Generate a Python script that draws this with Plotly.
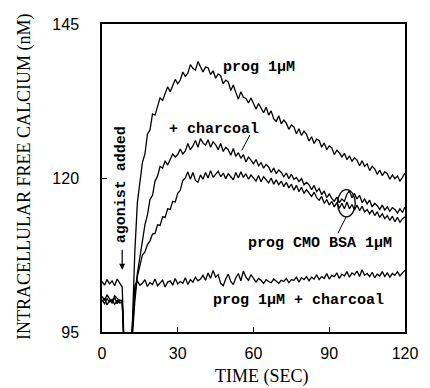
import plotly.graph_objects as go

time_s = list(range(0, 121))

prog_1uM = [
    100.8, 100.2, 101.0, 100.4, 99.8, 100.9, 100.5, 100.0, 100.2, 90, 90, 90,
    96.0, 108.0, 116.0, 119.2, 122.5, 123.9, 127.1, 127.8, 130.4, 130.2, 131.6, 133.0,
    132.6, 133.9, 134.8, 134.0, 135.1, 136.0, 135.3, 135.9, 137.2, 136.5, 137.0, 138.4,
    137.8, 137.5, 138.9, 138.1, 137.2, 138.0, 137.9, 136.8, 137.4, 136.2, 136.9, 136.6,
    135.3, 135.9, 135.6, 134.2, 135.1, 133.9, 132.8, 134.0, 133.1, 132.9, 132.2, 133.0,
    132.0, 131.2, 132.1, 131.4, 130.6, 131.5, 130.2, 130.9, 129.6, 129.2, 130.1, 128.8,
    129.4, 128.9, 127.9, 128.6, 128.3, 127.2, 128.0, 126.9, 127.6, 127.1, 126.0, 126.7,
    125.6, 126.3, 126.1, 125.0, 125.7, 124.6, 125.2, 124.9, 123.8, 124.5, 124.1, 123.4,
    124.0, 123.0, 123.6, 122.7, 123.3, 122.9, 122.0, 122.8, 121.9, 122.3, 121.2, 121.9,
    121.5, 120.6, 121.3, 120.4, 121.0, 120.7, 119.8, 120.5, 119.9, 120.3, 119.5, 120.1,
    120.8,
]

charcoal = [
    100.2, 99.6, 100.4, 99.9, 100.3, 99.5, 100.1, 99.7, 99.8, 90, 90, 90,
    95.0, 101.0, 104.5, 107.3, 109.5, 112.4, 114.0, 116.5, 117.2, 119.5, 120.3, 121.9,
    121.6, 122.8, 122.1, 123.0, 123.9, 123.4, 123.8, 124.7, 123.9, 124.4, 125.6, 124.6,
    125.2, 126.1, 125.0, 126.4, 125.7, 125.3, 126.2, 125.0, 125.9, 125.4, 124.6, 125.6,
    124.3, 125.0, 124.6, 123.7, 124.8, 123.5, 124.1, 123.2, 123.8, 122.6, 123.4, 122.9,
    122.3, 123.0, 122.0, 122.5, 121.6, 122.2, 121.8, 120.9, 121.6, 120.7, 121.3, 120.9,
    120.2, 120.8, 119.9, 120.6, 119.8, 120.1, 119.4, 119.9, 118.9, 119.3, 118.9, 118.1,
    118.8, 117.8, 118.3, 117.3, 117.9, 116.8, 117.4, 116.7, 116.2, 116.9, 116.0, 116.6,
    116.2, 117.4, 117.9, 116.8, 117.5, 116.6, 117.2, 116.0, 116.6, 115.8, 116.4, 115.3,
    115.9, 115.5, 114.9, 115.6, 114.8, 115.3, 114.6, 115.2, 114.9, 114.3, 115.0, 114.4,
    115.3,
]

cmo_bsa = [
    99.9, 100.5, 99.4, 100.1, 99.7, 100.6, 99.6, 100.2, 100.0, 90, 90, 90,
    94.0, 100.0, 104.0, 105.7, 107.5, 108.0, 109.2, 109.8, 110.9, 111.0, 112.4, 112.3,
    113.7, 113.6, 115.0, 114.9, 116.2, 116.1, 117.5, 118.0, 119.6, 120.0, 121.0, 119.8,
    120.9, 119.6, 119.3, 120.5, 119.8, 120.9, 120.0, 121.2, 120.1, 120.6, 121.1, 120.2,
    120.8, 119.9, 120.7, 120.2, 119.7, 120.9, 120.0, 121.0, 120.1, 120.7, 119.8, 120.5,
    120.0, 119.5, 120.4, 119.4, 120.2, 119.7, 119.2, 120.0, 119.0, 119.7, 118.9, 119.5,
    118.6, 119.3, 118.4, 119.0, 118.0, 118.8, 117.8, 118.5, 117.5, 118.1, 117.6, 117.0,
    117.7, 116.8, 116.4, 117.0, 115.9, 116.5, 115.6, 116.2, 115.3, 116.0, 115.1, 115.9,
    115.0, 116.1, 115.0, 115.7, 114.8, 115.6, 114.7, 115.4, 114.5, 114.9, 114.2, 114.8,
    113.9, 114.5, 113.6, 114.2, 113.4, 113.9, 113.1, 113.8, 112.9, 113.6, 112.8, 113.4,
    113.7,
]

prog_charcoal = [
    103.2, 102.6, 103.5, 102.8, 103.3, 102.5, 103.6, 102.9, 102.3, 90, 90, 90,
    96.0, 102.5, 103.3, 102.6, 102.9, 103.5, 102.4, 103.0, 102.7, 103.6, 102.5, 102.9,
    103.4, 102.3, 103.1, 103.3, 102.6, 103.7, 102.8, 103.2, 102.9, 103.8, 102.7, 103.5,
    103.1, 103.9, 103.3, 103.6, 104.2, 103.4, 104.6, 103.7, 105.0, 103.9, 104.3, 102.9,
    102.5, 103.6, 104.4, 103.2, 102.7, 103.8, 104.5, 103.3, 104.9, 103.9, 103.4, 104.3,
    103.6, 103.1, 103.7, 103.4, 102.9, 103.5, 103.2, 103.0, 103.6, 103.3, 102.9, 103.4,
    103.2, 103.7, 103.0, 103.5, 103.4, 103.9, 103.1, 103.8, 103.5, 104.0, 103.3, 103.9,
    103.6, 104.3, 103.5, 104.0, 103.7, 104.5, 103.6, 104.2, 104.0, 104.6, 103.7, 104.4,
    104.1, 104.8, 103.9, 104.6, 104.3, 104.9, 104.0, 105.1, 104.2, 104.5, 104.0, 104.7,
    103.8, 104.4, 104.1, 104.8, 104.0, 104.6, 103.9, 104.5, 104.2, 104.8, 104.1, 104.6,
    105.0,
]

x_ticks = [0, 30, 60, 90, 120]
y_ticks = [95, 120, 145]

fig = go.Figure()
for ys in [prog_1uM, charcoal, cmo_bsa, prog_charcoal]:
    fig.add_trace(go.Scatter(x=time_s, y=ys, mode="lines",
                             line=dict(color="black", width=1.3),
                             showlegend=False, hoverinfo="skip"))

axis_common = dict(showgrid=False, zeroline=False, showline=True, linecolor="black",
                   linewidth=1.5, mirror=True, ticks="inside", ticklen=5,
                   tickcolor="black", tickwidth=1.2,
                   tickfont=dict(family="Liberation Sans, Arial", size=16, color="black"))

fig.update_xaxes(range=[0, 120], tickvals=x_ticks, ticklabelstandoff=6, **axis_common)
fig.update_yaxes(range=[95, 145], tickvals=y_ticks, ticklabelstandoff=18, **axis_common)

lab_font = dict(family="Liberation Mono, Courier New, monospace", size=15, color="black")
title_font = dict(family="Liberation Serif, Times New Roman, serif", size=18, color="black")

annotations = [
    dict(text="INTRACELLULAR FREE CALCIUM (nM)", xref="paper", yref="paper",
         x=-0.258, y=0.506, textangle=-90, showarrow=False, font=title_font,
         xanchor="center", yanchor="middle"),
    dict(text="TIME (SEC)", xref="paper", yref="paper", x=0.529, y=-0.146,
         showarrow=False, font=title_font, xanchor="center", yanchor="middle"),
    dict(text="<b>prog 1μM</b>", x=62, y=138.0, showarrow=False, font=lab_font),
    dict(text="<b>+ charcoal</b>", x=44.5, y=127.8, showarrow=False, font=lab_font),
    dict(text="<b>prog CMO BSA 1μM</b>", x=86.3, y=109.4, showarrow=False, font=lab_font),
    dict(text="<b>prog 1μM + charcoal</b>", x=77.8, y=100.1, showarrow=False, font=lab_font),
    dict(text="<b>agonist added</b>", x=7.7, y=118.9, textangle=-90, showarrow=False,
         font=lab_font),
    dict(text="", x=8.0, y=105.1, ax=8.0, ay=108.6, axref="x", ayref="y",
         showarrow=True, arrowhead=2, arrowsize=1, arrowwidth=1.2, arrowcolor="black"),
]
fig.update_layout(annotations=annotations)

shapes = [
    dict(type="line", xref="x", yref="y", x0=58.6, y0=127.0, x1=55.4, y1=124.5,
         line=dict(color="black", width=1)),
    dict(type="line", xref="x", yref="y", x0=96.7, y0=113.7, x1=93.4, y1=111.0,
         line=dict(color="black", width=1)),
    dict(type="circle", xref="x", yref="y", x0=93.3, x1=100.3, y0=113.7, y1=118.1,
         line=dict(color="black", width=1.3)),
]
fig.update_layout(shapes=shapes)

fig.update_layout(width=430, height=388, margin=dict(l=102, r=18, t=24, b=56),
                  paper_bgcolor="white", plot_bgcolor="white")

fig.write_html("out.html")
